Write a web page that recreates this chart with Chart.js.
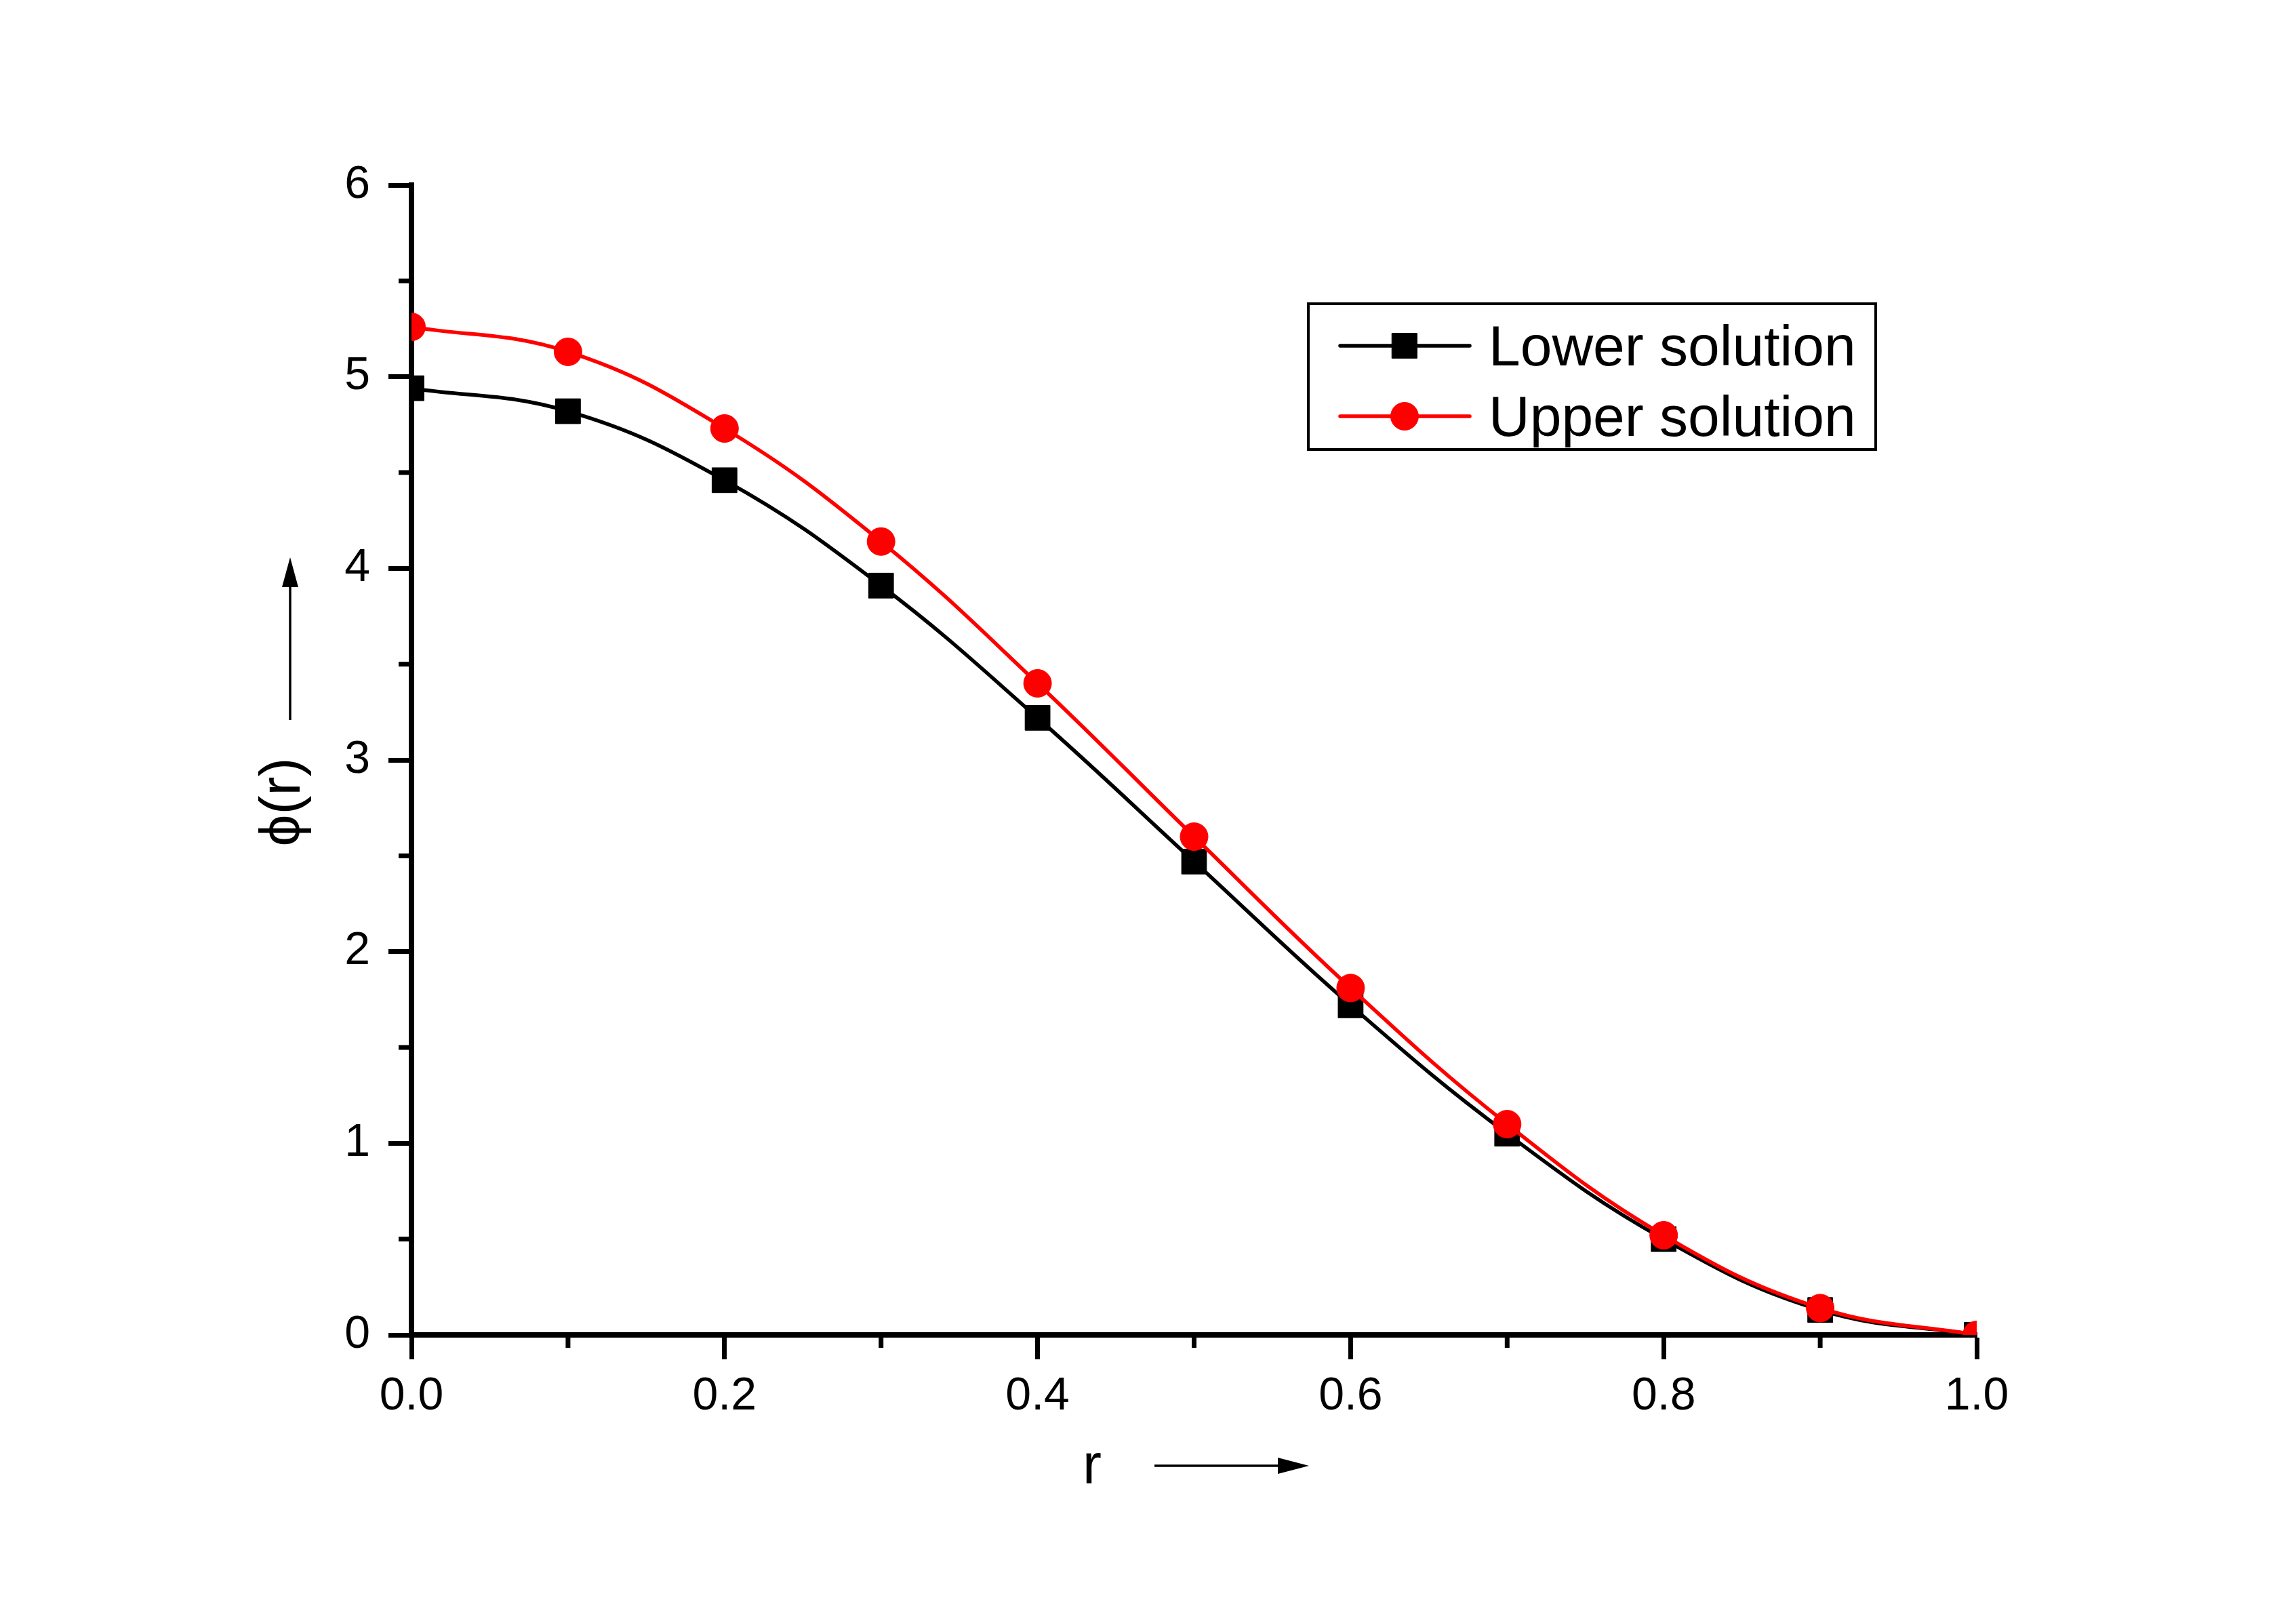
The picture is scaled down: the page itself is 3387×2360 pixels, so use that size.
<!DOCTYPE html>
<html><head><meta charset="utf-8">
<script src="https://cdn.jsdelivr.net/npm/chart.js@4.4.1/dist/chart.umd.min.js"></script>
<style>html,body{margin:0;padding:0;background:#fff;} #wrap{width:3387px;height:2360px;}</style>
</head><body><div id="wrap"><canvas id="c" width="3387" height="2360"></canvas></div>
<script>
// ---- data ----
const rValues = [0.0, 0.1, 0.2, 0.3, 0.4, 0.5, 0.6, 0.7, 0.8, 0.9, 1.0];
const lowerSolution = [4.94, 4.82, 4.46, 3.91, 3.22, 2.47, 1.72, 1.05, 0.50, 0.13, 0.0];
const upperSolution = [5.26, 5.13, 4.73, 4.14, 3.40, 2.60, 1.81, 1.10, 0.52, 0.14, 0.0];
const seriesNames = ['Lower solution', 'Upper solution'];
const xTicks = [0.0, 0.2, 0.4, 0.6, 0.8, 1.0];
const yTicks = [0, 1, 2, 3, 4, 5, 6];
const xMinorTicks = [0.1, 0.3, 0.5, 0.7, 0.9];
const yMinorTicks = [0.5, 1.5, 2.5, 3.5, 4.5, 5.5];
const xTitle = 'r';
const yTitle = 'ϕ(r)';

const FONT = '"Liberation Sans", Arial, sans-serif';

function arrow(ctx, x1, y1, x2, y2, headLen, headHalf) {
  const ang = Math.atan2(y2 - y1, x2 - x1);
  const bx = x2 - headLen * Math.cos(ang), by = y2 - headLen * Math.sin(ang);
  ctx.beginPath(); ctx.lineWidth = 3.5; ctx.moveTo(x1, y1); ctx.lineTo(bx, by); ctx.stroke();
  const nx = -Math.sin(ang), ny = Math.cos(ang);
  ctx.beginPath();
  ctx.moveTo(x2, y2);
  ctx.lineTo(bx + nx * headHalf, by + ny * headHalf);
  ctx.lineTo(bx - nx * headHalf, by - ny * headHalf);
  ctx.closePath(); ctx.fill();
}

const decor = {
  id: 'decor',
  afterDraw(chart) {
    const ctx = chart.ctx, xs = chart.scales.x, ys = chart.scales.y, area = chart.chartArea;
    ctx.save();
    ctx.strokeStyle = '#000'; ctx.fillStyle = '#000'; ctx.lineWidth = 7; ctx.lineCap = 'butt';
    xMinorTicks.forEach(v => { const px = xs.getPixelForValue(v); ctx.beginPath(); ctx.moveTo(px, area.bottom); ctx.lineTo(px, area.bottom + 19); ctx.stroke(); });
    yMinorTicks.forEach(v => { const py = ys.getPixelForValue(v); ctx.beginPath(); ctx.moveTo(area.left, py); ctx.lineTo(area.left - 19, py); ctx.stroke(); });

    // axis titles
    ctx.font = '84px ' + FONT;
    ctx.textAlign = 'center'; ctx.textBaseline = 'alphabetic';
    ctx.fillText(xTitle, 1611, 2188);
    arrow(ctx, 1703, 2162, 1931, 2162, 46, 12);
    ctx.save(); ctx.translate(442, 1183); ctx.rotate(-Math.PI / 2); ctx.fillText(yTitle, 0, 0); ctx.restore();
    arrow(ctx, 428, 1062, 428, 822, 44, 12);

    // legend
    ctx.lineWidth = 4; ctx.strokeStyle = '#000';
    ctx.strokeRect(1930, 448, 837, 215);
    const rows = [510, 614];
    chart.data.datasets.forEach((ds, i) => {
      const y = rows[i];
      ctx.strokeStyle = ds.borderColor; ctx.lineWidth = ds.borderWidth; ctx.lineCap = 'round';
      ctx.beginPath(); ctx.moveTo(1977, y); ctx.lineTo(2168, y); ctx.stroke();
      ctx.fillStyle = ds.pointBackgroundColor; ctx.strokeStyle = ds.pointBorderColor; ctx.lineWidth = 1;
      Chart.helpers.drawPoint(ctx, { pointStyle: ds.pointStyle, radius: ds.pointRadius, borderWidth: 1, rotation: 0 }, 2072, y);
      ctx.fillStyle = '#000'; ctx.textAlign = 'left'; ctx.font = '84px ' + FONT;
      ctx.fillText(ds.label, 2196, y + 29);
    });
    ctx.restore();
  }
};

new Chart(document.getElementById('c'), {
  type: 'line',
  data: {
    datasets: [
      {
        label: seriesNames[0],
        data: rValues.map((r, i) => ({ x: r, y: lowerSolution[i] })),
        borderColor: '#000000', backgroundColor: '#000000',
        pointBackgroundColor: '#000000', pointBorderColor: '#000000',
        borderWidth: 5.5, pointStyle: 'rect', pointRadius: 26, pointBorderWidth: 1,
        tension: 0.4, order: 1, fill: false
      },
      {
        label: seriesNames[1],
        data: rValues.map((r, i) => ({ x: r, y: upperSolution[i] })),
        borderColor: '#ff0000', backgroundColor: '#ff0000',
        pointBackgroundColor: '#ff0000', pointBorderColor: '#ff0000',
        borderWidth: 5.5, pointStyle: 'circle', pointRadius: 20.5, pointBorderWidth: 1,
        tension: 0.4, order: 0, fill: false
      }
    ]
  },
  options: {
    responsive: false, animation: false, devicePixelRatio: 1,
    layout: { padding: { left: 0, top: 273, right: 471, bottom: 0 } },
    plugins: { legend: { display: false }, tooltip: { enabled: false }, title: { display: false } },
    events: [],
    scales: {
      x: {
        type: 'linear', min: 0, max: 1,
        afterBuildTicks: s => { s.ticks = xTicks.map(v => ({ value: v })); },
        afterFit: s => { s.height = 391; },
        grid: { drawOnChartArea: false, drawTicks: true, tickLength: 36, tickWidth: 7, tickColor: '#000' },
        border: { display: true, color: '#000', width: 8 },
        ticks: { color: '#000', font: { family: FONT, size: 68 }, padding: 14, maxRotation: 0, autoSkip: false,
                 callback: v => Number(v).toFixed(1) }
      },
      y: {
        type: 'linear', min: 0, max: 6,
        afterBuildTicks: s => { s.ticks = yTicks.map(v => ({ value: v })); },
        afterFit: s => { s.width = 607; },
        grid: { drawOnChartArea: false, drawTicks: true, tickLength: 34, tickWidth: 7, tickColor: '#000' },
        border: { display: true, color: '#000', width: 8 },
        ticks: { color: '#000', font: { family: FONT, size: 68 }, padding: 27, autoSkip: false,
                 callback: v => String(v) }
      }
    }
  },
  plugins: [decor]
});
</script>
</body></html>
